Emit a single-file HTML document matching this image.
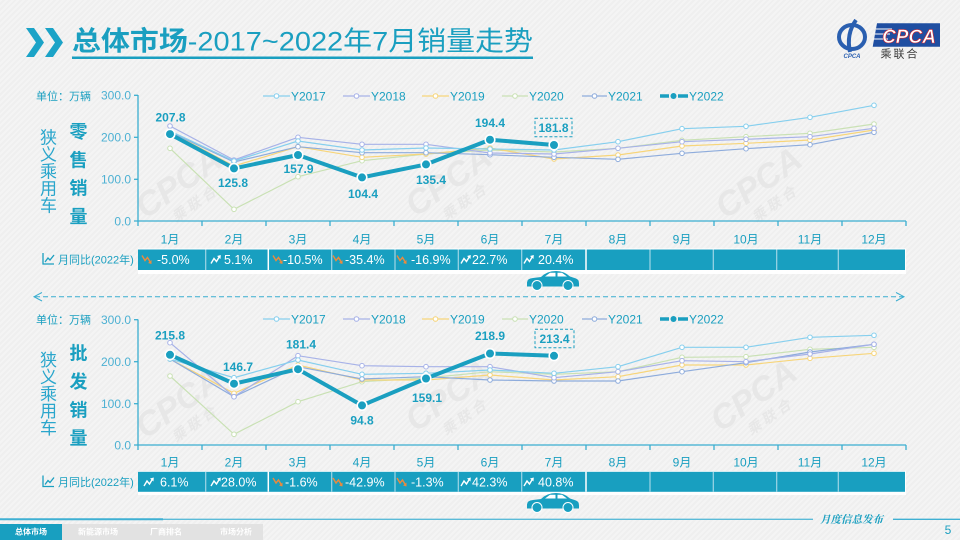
<!DOCTYPE html>
<html><head><meta charset="utf-8"><style>
html,body{margin:0;padding:0;width:960px;height:540px;overflow:hidden;}
body{background:#f2f2f2;background-image:repeating-linear-gradient(135deg,#f4f4f4 0px,#f4f4f4 2px,#efefef 2px,#efefef 4px);}
svg{display:block;font-family:"Liberation Sans","Noto Sans CJK SC",sans-serif;}
</style></head><body>
<svg width="960" height="540" viewBox="0 0 960 540" xmlns="http://www.w3.org/2000/svg">
<!-- watermarks -->
<g fill="#e6e6e6" font-weight="bold" font-style="italic" opacity="0.9">
<g transform="translate(185,192) rotate(-35)"><text x="0" y="0" font-size="34" text-anchor="middle">CPCA</text><text x="0" y="20" font-size="14" text-anchor="middle">乘 联 合</text></g>
<g transform="translate(455,190) rotate(-35)"><text x="0" y="0" font-size="34" text-anchor="middle">CPCA</text><text x="0" y="20" font-size="14" text-anchor="middle">乘 联 合</text></g>
<g transform="translate(765,192) rotate(-35)"><text x="0" y="0" font-size="34" text-anchor="middle">CPCA</text><text x="0" y="20" font-size="14" text-anchor="middle">乘 联 合</text></g>
<g transform="translate(185,412) rotate(-35)"><text x="0" y="0" font-size="34" text-anchor="middle">CPCA</text><text x="0" y="20" font-size="14" text-anchor="middle">乘 联 合</text></g>
<g transform="translate(455,405) rotate(-35)"><text x="0" y="0" font-size="34" text-anchor="middle">CPCA</text><text x="0" y="20" font-size="14" text-anchor="middle">乘 联 合</text></g>
<g transform="translate(760,405) rotate(-35)"><text x="0" y="0" font-size="34" text-anchor="middle">CPCA</text><text x="0" y="20" font-size="14" text-anchor="middle">乘 联 合</text></g>
</g>

<!-- header -->
<polygon points="26,28 34,28 44,42.5 34,57 26,57 36,42.5" fill="#1ba3c7"/>
<polygon points="45,28 53,28 63,42.5 53,57 45,57 55,42.5" fill="#1ba3c7"/>
<text x="72" y="50.5" font-size="27" fill="#1a9fc0" textLength="461" lengthAdjust="spacingAndGlyphs"><tspan font-weight="bold">总体市场</tspan>-2017~2022年7月销量走势</text>
<rect x="72" y="56.5" width="461" height="2.5" fill="#1a9fc0"/>

<!-- logo -->
<g>
<ellipse cx="852" cy="37" rx="13" ry="12" fill="none" stroke="#2a5fb0" stroke-width="4"/>
<path d="M856,20 Q846,34 850,52" stroke="#2a5fb0" stroke-width="4" fill="none"/>
<text x="852" y="58" font-size="6" font-style="italic" font-weight="bold" fill="#2a5fb0" text-anchor="middle">CPCA</text>
<polygon points="877,23.3 940,23.3 940,46.7 872.7,46.7" fill="#1f4ea1"/>
<line x1="876" y1="29" x2="892" y2="29" stroke="#fff" stroke-width="1"/>
<line x1="875" y1="34" x2="890" y2="34" stroke="#fff" stroke-width="1"/>
<line x1="874" y1="39" x2="888" y2="39" stroke="#fff" stroke-width="1"/>
<text x="909" y="43" font-size="19" font-weight="bold" font-style="italic" fill="#fff" stroke="#d6262d" stroke-width="0.6" text-anchor="middle">CPCA</text>
<text x="900" y="57.5" font-size="11" fill="#3a3a3a" text-anchor="middle" letter-spacing="2">乘联合</text>
</g>

<!-- ============ TOP CHART ============ -->
<text x="36" y="100" font-size="11" fill="#1a9fc0">单位：万辆</text>
<g font-size="17" fill="#2aa6cc" text-anchor="middle">
<text x="48.5" y="143.5">狭</text><text x="48.5" y="160.5">义</text><text x="48.5" y="177.5">乘</text><text x="48.5" y="194.5">用</text><text x="48.5" y="211.5">车</text>
</g>
<g font-size="18" font-weight="bold" fill="#1a9fc0" text-anchor="middle">
<text x="78.5" y="138">零</text><text x="78.5" y="166.5">售</text><text x="78.5" y="194.5">销</text><text x="78.5" y="223">量</text>
</g>
<g font-size="12" fill="#4db1d3" text-anchor="end">
<text x="131" y="99.5">300.0</text><text x="131" y="141.5">200.0</text><text x="131" y="183.5">100.0</text><text x="131" y="225.3">0.0</text>
</g>
<g stroke="#3aaed0" stroke-width="1.3">
<line x1="138" y1="95" x2="138" y2="221"/>
<line x1="134" y1="95.3" x2="138" y2="95.3"/><line x1="134" y1="137.3" x2="138" y2="137.3"/><line x1="134" y1="179.3" x2="138" y2="179.3"/>
<line x1="134" y1="221" x2="906" y2="221"/>
<path d="M138,221v5M202,221v5M266,221v5M330,221v5M394,221v5M458,221v5M522,221v5M586,221v5M650,221v5M714,221v5M778,221v5M842,221v5M906,221v5"/>
</g>
<g font-size="12" fill="#1a9fc0" text-anchor="middle">
<text x="170" y="243.5">1月</text><text x="234" y="243.5">2月</text><text x="298" y="243.5">3月</text><text x="362" y="243.5">4月</text><text x="426" y="243.5">5月</text><text x="490" y="243.5">6月</text><text x="554" y="243.5">7月</text><text x="618" y="243.5">8月</text><text x="682" y="243.5">9月</text><text x="746" y="243.5">10月</text><text x="810" y="243.5">11月</text><text x="874" y="243.5">12月</text>
</g>
<!-- legend top -->
<g font-size="12" fill="#1a9fc0">
<line x1="263" y1="96" x2="290" y2="96" stroke="#86cfee" stroke-width="1.2"/><circle cx="276.5" cy="96" r="2.3" fill="#fff" stroke="#86cfee"/><text x="291" y="100.3">Y2017</text>
<line x1="343" y1="96" x2="370" y2="96" stroke="#a7b2e8" stroke-width="1.2"/><circle cx="356.5" cy="96" r="2.3" fill="#fff" stroke="#a7b2e8"/><text x="371" y="100.3">Y2018</text>
<line x1="422" y1="96" x2="449" y2="96" stroke="#f7d57a" stroke-width="1.2"/><circle cx="435.5" cy="96" r="2.3" fill="#fff" stroke="#f7d57a"/><text x="450" y="100.3">Y2019</text>
<line x1="502" y1="96" x2="528" y2="96" stroke="#c9e1b4" stroke-width="1.2"/><circle cx="515" cy="96" r="2.3" fill="#fff" stroke="#c9e1b4"/><text x="529" y="100.3">Y2020</text>
<line x1="582" y1="96" x2="607" y2="96" stroke="#8eacdc" stroke-width="1.2"/><circle cx="594.5" cy="96" r="2.3" fill="#fff" stroke="#8eacdc"/><text x="608" y="100.3">Y2021</text>
<line x1="660" y1="96" x2="669" y2="96" stroke="#1a9fc0" stroke-width="3.5"/><line x1="678" y1="96" x2="688" y2="96" stroke="#1a9fc0" stroke-width="3.5"/><circle cx="673.5" cy="96" r="3" fill="#1a9fc0"/><text x="689" y="100.3">Y2022</text>
</g>
<!-- series top -->
<g fill="none" stroke-width="1.2">
<polyline stroke="#c9e1b4" points="170,148.3 234,209.3 298,176.7 362,160.7 426,154 490,150 554,152 618,148.3 682,140.3 746,136.7 810,133.3 874,124"/>
<polyline stroke="#f7d57a" points="170,132 234,166 298,146.7 362,157.3 426,154 490,148 554,159 618,155 682,146 746,143.3 810,140 874,130"/>
<polyline stroke="#8eacdc" points="170,132 234,162 298,146.7 362,152.7 426,152.7 490,154.7 554,157.3 618,159.3 682,153.3 746,148.7 810,144.7 874,132.3"/>
<polyline stroke="#a7b2e8" points="170,126 234,160 298,137.3 362,144.3 426,144.3 490,153 554,154 618,148.3 682,141.7 746,139.3 810,136.7 874,128.3"/>
<polyline stroke="#86cfee" points="170,131 234,161 298,141 362,150 426,148 490,149 554,150 618,141.7 682,128.7 746,126.3 810,117.3 874,105.3"/>
</g>
<g fill="#fff" stroke-width="1">
<g stroke="#c9e1b4"><circle cx="170" cy="148.3" r="2.3"/><circle cx="234" cy="209.3" r="2.3"/><circle cx="298" cy="176.7" r="2.3"/><circle cx="362" cy="160.7" r="2.3"/><circle cx="426" cy="154" r="2.3"/><circle cx="490" cy="150" r="2.3"/><circle cx="554" cy="152" r="2.3"/><circle cx="618" cy="148.3" r="2.3"/><circle cx="682" cy="140.3" r="2.3"/><circle cx="746" cy="136.7" r="2.3"/><circle cx="810" cy="133.3" r="2.3"/><circle cx="874" cy="124" r="2.3"/></g>
<g stroke="#f7d57a"><circle cx="170" cy="132" r="2.3"/><circle cx="234" cy="166" r="2.3"/><circle cx="298" cy="146.7" r="2.3"/><circle cx="362" cy="157.3" r="2.3"/><circle cx="426" cy="154" r="2.3"/><circle cx="490" cy="148" r="2.3"/><circle cx="554" cy="159" r="2.3"/><circle cx="618" cy="155" r="2.3"/><circle cx="682" cy="146" r="2.3"/><circle cx="746" cy="143.3" r="2.3"/><circle cx="810" cy="140" r="2.3"/><circle cx="874" cy="130" r="2.3"/></g>
<g stroke="#8eacdc"><circle cx="170" cy="132" r="2.3"/><circle cx="234" cy="162" r="2.3"/><circle cx="298" cy="146.7" r="2.3"/><circle cx="362" cy="152.7" r="2.3"/><circle cx="426" cy="152.7" r="2.3"/><circle cx="490" cy="154.7" r="2.3"/><circle cx="554" cy="157.3" r="2.3"/><circle cx="618" cy="159.3" r="2.3"/><circle cx="682" cy="153.3" r="2.3"/><circle cx="746" cy="148.7" r="2.3"/><circle cx="810" cy="144.7" r="2.3"/><circle cx="874" cy="132.3" r="2.3"/></g>
<g stroke="#a7b2e8"><circle cx="170" cy="126" r="2.3"/><circle cx="234" cy="160" r="2.3"/><circle cx="298" cy="137.3" r="2.3"/><circle cx="362" cy="144.3" r="2.3"/><circle cx="426" cy="144.3" r="2.3"/><circle cx="490" cy="153" r="2.3"/><circle cx="554" cy="154" r="2.3"/><circle cx="618" cy="148.3" r="2.3"/><circle cx="682" cy="141.7" r="2.3"/><circle cx="746" cy="139.3" r="2.3"/><circle cx="810" cy="136.7" r="2.3"/><circle cx="874" cy="128.3" r="2.3"/></g>
<g stroke="#86cfee"><circle cx="170" cy="131" r="2.3"/><circle cx="234" cy="161" r="2.3"/><circle cx="298" cy="141" r="2.3"/><circle cx="362" cy="150" r="2.3"/><circle cx="426" cy="148" r="2.3"/><circle cx="490" cy="149" r="2.3"/><circle cx="554" cy="150" r="2.3"/><circle cx="618" cy="141.7" r="2.3"/><circle cx="682" cy="128.7" r="2.3"/><circle cx="746" cy="126.3" r="2.3"/><circle cx="810" cy="117.3" r="2.3"/><circle cx="874" cy="105.3" r="2.3"/></g>
</g>
<polyline fill="none" stroke="#1a9fc0" stroke-width="4" stroke-linejoin="round" points="170,134.1 234,168.4 298,155 362,177.4 426,164.4 490,139.7 554,145"/>
<g fill="#1a9fc0" stroke="#fff" stroke-width="1.6">
<circle cx="170" cy="134.1" r="4.8"/><circle cx="234" cy="168.4" r="4.8"/><circle cx="298" cy="155" r="4.8"/><circle cx="362" cy="177.4" r="4.8"/><circle cx="426" cy="164.4" r="4.8"/><circle cx="490" cy="139.7" r="4.8"/><circle cx="554" cy="145" r="4.8"/>
</g>
<g font-size="12" font-weight="bold" fill="#1a9fc0" text-anchor="middle">
<text x="170.5" y="121.3">207.8</text><text x="233" y="186.8">125.8</text><text x="298.5" y="172.8">157.9</text><text x="363" y="197.8">104.4</text><text x="431" y="183.8">135.4</text><text x="490" y="127">194.4</text><text x="553.5" y="131.8">181.8</text>
</g>
<rect x="535" y="118.3" width="37" height="18.4" fill="none" stroke="#1a9fc0" stroke-width="1" stroke-dasharray="3,2"/>

<!-- table top -->
<rect x="138" y="248.5" width="768" height="25.5" fill="#ffffff"/>
<rect x="138" y="249.5" width="767" height="20.5" fill="#189fc0"/>
<g stroke="#9fd6e6" stroke-width="1.2">
<path d="M205.7,249.5v20.5M331.7,249.5v20.5M395,249.5v20.5M458.3,249.5v20.5M521.7,249.5v20.5M650,249.5v20.5M713.3,249.5v20.5M776.7,249.5v20.5M838.3,249.5v20.5"/>
</g>
<g stroke="#ffffff" stroke-width="1.5"><path d="M268.3,249.5v20.5M586,249.5v20.5"/></g>
<!-- label left -->
<g stroke="#1a9fc0" stroke-width="1.3" fill="none"><path d="M43,253v11h11"/><path d="M45,262l3,-4l2,2l4,-5"/></g>
<text x="58" y="263.5" font-size="11" fill="#1a9fc0">月同比(2022年)</text>
<defs>
<g id="dn"><path d="M0,1 L3,6 L5.5,3 L8.5,8" fill="none" stroke="#ec8a3c" stroke-width="1.4"/><path d="M6,8.5 L9.5,9.5 L9.5,5.5 Z" fill="#ec8a3c"/></g>
<g id="up"><path d="M0,9 L3,4 L5.5,7 L8.5,2" fill="none" stroke="#ffffff" stroke-width="1.4"/><path d="M6,1.5 L9.8,0.5 L9.5,4.5 Z" fill="#ffffff"/></g>
</defs>
<g font-size="12.5" fill="#ffffff">
<use href="#dn" x="142" y="254.5"/><text x="157" y="264">-5.0%</text>
<use href="#up" x="211" y="254.5"/><text x="224" y="264">5.1%</text>
<use href="#dn" x="273" y="254.5"/><text x="283" y="264">-10.5%</text>
<use href="#dn" x="333" y="254.5"/><text x="345" y="264">-35.4%</text>
<use href="#dn" x="397" y="254.5"/><text x="411" y="264">-16.9%</text>
<use href="#up" x="461" y="254.5"/><text x="472" y="264">22.7%</text>
<use href="#up" x="524" y="254.5"/><text x="538" y="264">20.4%</text>
</g>
<!-- car top -->
<g transform="translate(527,270.5)" fill="#189fc0">
<path d="M0,12 Q0,8 6,7.5 L14,6.5 Q20,0.5 29,0.5 Q37,0.5 43,6 L49,8 Q52,9 52,13 L52,16 L0,16 Z"/>
<polygon points="18,6 23,2.3 28.5,2.3 28.5,6" fill="#fff"/><polygon points="30.5,2.3 35,2.3 40,6 30.5,6" fill="#fff"/>
<circle cx="10" cy="15" r="5" stroke="#fff" stroke-width="1"/><circle cx="41" cy="15" r="5" stroke="#fff" stroke-width="1"/>
</g>

<!-- dashed arrow -->
<g stroke="#3aaed0" stroke-width="1" fill="none">
<line x1="35" y1="296.7" x2="903" y2="296.7" stroke-dasharray="5,3"/>
<path d="M42,292.5 L34,296.7 L42,301"/>
<path d="M896,292.5 L904,296.7 L896,301"/>
</g>

<!-- ============ BOTTOM CHART ============ -->
<text x="36" y="323.3" font-size="11" fill="#1a9fc0">单位：万辆</text>
<g font-size="17" fill="#2aa6cc" text-anchor="middle">
<text x="48.5" y="366">狭</text><text x="48.5" y="383">义</text><text x="48.5" y="400">乘</text><text x="48.5" y="417">用</text><text x="48.5" y="434">车</text>
</g>
<g font-size="18" font-weight="bold" fill="#1a9fc0" text-anchor="middle">
<text x="78.5" y="359.6">批</text><text x="78.5" y="388">发</text><text x="78.5" y="416.3">销</text><text x="78.5" y="444.6">量</text>
</g>
<g font-size="12" fill="#4db1d3" text-anchor="end">
<text x="131" y="323.9">300.0</text><text x="131" y="365.9">200.0</text><text x="131" y="407.9">100.0</text><text x="131" y="449.3">0.0</text>
</g>
<g stroke="#3aaed0" stroke-width="1.3">
<line x1="138" y1="319.5" x2="138" y2="445"/>
<line x1="134" y1="319.7" x2="138" y2="319.7"/><line x1="134" y1="361.7" x2="138" y2="361.7"/><line x1="134" y1="403.7" x2="138" y2="403.7"/>
<line x1="134" y1="445" x2="906" y2="445"/>
<path d="M138,445v5M202,445v5M266,445v5M330,445v5M394,445v5M458,445v5M522,445v5M586,445v5M650,445v5M714,445v5M778,445v5M842,445v5M906,445v5"/>
</g>
<g font-size="12" fill="#1a9fc0" text-anchor="middle">
<text x="170" y="466.5">1月</text><text x="234" y="466.5">2月</text><text x="298" y="466.5">3月</text><text x="362" y="466.5">4月</text><text x="426" y="466.5">5月</text><text x="490" y="466.5">6月</text><text x="554" y="466.5">7月</text><text x="618" y="466.5">8月</text><text x="682" y="466.5">9月</text><text x="746" y="466.5">10月</text><text x="810" y="466.5">11月</text><text x="874" y="466.5">12月</text>
</g>
<g font-size="12" fill="#1a9fc0">
<line x1="263" y1="319" x2="290" y2="319" stroke="#86cfee" stroke-width="1.2"/><circle cx="276.5" cy="319" r="2.3" fill="#fff" stroke="#86cfee"/><text x="291" y="323.3">Y2017</text>
<line x1="343" y1="319" x2="370" y2="319" stroke="#a7b2e8" stroke-width="1.2"/><circle cx="356.5" cy="319" r="2.3" fill="#fff" stroke="#a7b2e8"/><text x="371" y="323.3">Y2018</text>
<line x1="422" y1="319" x2="449" y2="319" stroke="#f7d57a" stroke-width="1.2"/><circle cx="435.5" cy="319" r="2.3" fill="#fff" stroke="#f7d57a"/><text x="450" y="323.3">Y2019</text>
<line x1="502" y1="319" x2="528" y2="319" stroke="#c9e1b4" stroke-width="1.2"/><circle cx="515" cy="319" r="2.3" fill="#fff" stroke="#c9e1b4"/><text x="529" y="323.3">Y2020</text>
<line x1="582" y1="319" x2="607" y2="319" stroke="#8eacdc" stroke-width="1.2"/><circle cx="594.5" cy="319" r="2.3" fill="#fff" stroke="#8eacdc"/><text x="608" y="323.3">Y2021</text>
<line x1="660" y1="319" x2="669" y2="319" stroke="#1a9fc0" stroke-width="3.5"/><line x1="678" y1="319" x2="688" y2="319" stroke="#1a9fc0" stroke-width="3.5"/><circle cx="673.5" cy="319" r="3" fill="#1a9fc0"/><text x="689" y="323.3">Y2022</text>
</g>
<g fill="none" stroke-width="1.2">
<polyline stroke="#c9e1b4" points="170,376 234,434.3 298,401.7 362,381.7 426,378 490,371.7 554,374.3 618,371.7 682,357.3 746,356.7 810,349.3 874,347.3"/>
<polyline stroke="#f7d57a" points="170,359 234,393.3 298,365 362,380 426,380 490,375 554,380 618,376.7 682,365 746,365 810,358.3 874,353.3"/>
<polyline stroke="#8eacdc" points="170,359 234,396.7 298,366.7 362,379 426,376.7 490,380 554,381 618,381 682,371.7 746,362.7 810,352 874,344.3"/>
<polyline stroke="#a7b2e8" points="170,342.7 234,396.7 298,355.7 362,365.7 426,366.7 490,366.7 554,377.7 618,371.7 682,360.7 746,361.7 810,354 874,344.3"/>
<polyline stroke="#86cfee" points="170,359 234,377.7 298,360 362,374.3 426,373.3 490,370 554,373.3 618,366.7 682,347.3 746,347.3 810,337.3 874,335.3"/>
</g>
<g fill="#fff" stroke-width="1">
<g stroke="#c9e1b4"><circle cx="170" cy="376" r="2.3"/><circle cx="234" cy="434.3" r="2.3"/><circle cx="298" cy="401.7" r="2.3"/><circle cx="362" cy="381.7" r="2.3"/><circle cx="426" cy="378" r="2.3"/><circle cx="490" cy="371.7" r="2.3"/><circle cx="554" cy="374.3" r="2.3"/><circle cx="618" cy="371.7" r="2.3"/><circle cx="682" cy="357.3" r="2.3"/><circle cx="746" cy="356.7" r="2.3"/><circle cx="810" cy="349.3" r="2.3"/><circle cx="874" cy="347.3" r="2.3"/></g>
<g stroke="#f7d57a"><circle cx="170" cy="359" r="2.3"/><circle cx="234" cy="393.3" r="2.3"/><circle cx="298" cy="365" r="2.3"/><circle cx="362" cy="380" r="2.3"/><circle cx="426" cy="380" r="2.3"/><circle cx="490" cy="375" r="2.3"/><circle cx="554" cy="380" r="2.3"/><circle cx="618" cy="376.7" r="2.3"/><circle cx="682" cy="365" r="2.3"/><circle cx="746" cy="365" r="2.3"/><circle cx="810" cy="358.3" r="2.3"/><circle cx="874" cy="353.3" r="2.3"/></g>
<g stroke="#8eacdc"><circle cx="170" cy="359" r="2.3"/><circle cx="234" cy="396.7" r="2.3"/><circle cx="298" cy="366.7" r="2.3"/><circle cx="362" cy="379" r="2.3"/><circle cx="426" cy="376.7" r="2.3"/><circle cx="490" cy="380" r="2.3"/><circle cx="554" cy="381" r="2.3"/><circle cx="618" cy="381" r="2.3"/><circle cx="682" cy="371.7" r="2.3"/><circle cx="746" cy="362.7" r="2.3"/><circle cx="810" cy="352" r="2.3"/><circle cx="874" cy="344.3" r="2.3"/></g>
<g stroke="#a7b2e8"><circle cx="170" cy="342.7" r="2.3"/><circle cx="234" cy="396.7" r="2.3"/><circle cx="298" cy="355.7" r="2.3"/><circle cx="362" cy="365.7" r="2.3"/><circle cx="426" cy="366.7" r="2.3"/><circle cx="490" cy="366.7" r="2.3"/><circle cx="554" cy="377.7" r="2.3"/><circle cx="618" cy="371.7" r="2.3"/><circle cx="682" cy="360.7" r="2.3"/><circle cx="746" cy="361.7" r="2.3"/><circle cx="810" cy="354" r="2.3"/><circle cx="874" cy="344.3" r="2.3"/></g>
<g stroke="#86cfee"><circle cx="170" cy="359" r="2.3"/><circle cx="234" cy="377.7" r="2.3"/><circle cx="298" cy="360" r="2.3"/><circle cx="362" cy="374.3" r="2.3"/><circle cx="426" cy="373.3" r="2.3"/><circle cx="490" cy="370" r="2.3"/><circle cx="554" cy="373.3" r="2.3"/><circle cx="618" cy="366.7" r="2.3"/><circle cx="682" cy="347.3" r="2.3"/><circle cx="746" cy="347.3" r="2.3"/><circle cx="810" cy="337.3" r="2.3"/><circle cx="874" cy="335.3" r="2.3"/></g>
</g>
<polyline fill="none" stroke="#1a9fc0" stroke-width="4" stroke-linejoin="round" points="170,354.8 234,383.7 298,369.2 362,405.4 426,378.5 490,353.5 554,355.8"/>
<g fill="#1a9fc0" stroke="#fff" stroke-width="1.6">
<circle cx="170" cy="354.8" r="4.8"/><circle cx="234" cy="383.7" r="4.8"/><circle cx="298" cy="369.2" r="4.8"/><circle cx="362" cy="405.4" r="4.8"/><circle cx="426" cy="378.5" r="4.8"/><circle cx="490" cy="353.5" r="4.8"/><circle cx="554" cy="355.8" r="4.8"/>
</g>
<g font-size="12" font-weight="bold" fill="#1a9fc0" text-anchor="middle">
<text x="170" y="339.3">215.8</text><text x="238" y="371">146.7</text><text x="301" y="348.6">181.4</text><text x="362" y="424.3">94.8</text><text x="427" y="402">159.1</text><text x="490" y="340">218.9</text><text x="554.5" y="342.8">213.4</text>
</g>
<rect x="535" y="329.3" width="39" height="18.4" fill="none" stroke="#1a9fc0" stroke-width="1" stroke-dasharray="3,2"/>

<!-- table bottom -->
<rect x="138" y="471" width="768" height="24" fill="#ffffff"/>
<rect x="138" y="471.8" width="767" height="20" fill="#189fc0"/>
<g stroke="#9fd6e6" stroke-width="1.2">
<path d="M205.7,471.8v20M331.7,471.8v20M395,471.8v20M458.3,471.8v20M521.7,471.8v20M650,471.8v20M713.3,471.8v20M776.7,471.8v20M838.3,471.8v20"/>
</g>
<g stroke="#ffffff" stroke-width="1.5"><path d="M268.3,471.8v20M586,471.8v20"/></g>
<g stroke="#1a9fc0" stroke-width="1.3" fill="none"><path d="M43,475.5v11h11"/><path d="M45,484.5l3,-4l2,2l4,-5"/></g>
<text x="58" y="486" font-size="11" fill="#1a9fc0">月同比(2022年)</text>
<g font-size="12.5" fill="#ffffff">
<use href="#up" x="144" y="477"/><text x="160" y="486.3">6.1%</text>
<use href="#up" x="211" y="477"/><text x="221" y="486.3">28.0%</text>
<use href="#dn" x="273" y="477"/><text x="285" y="486.3">-1.6%</text>
<use href="#dn" x="333" y="477"/><text x="345" y="486.3">-42.9%</text>
<use href="#dn" x="397" y="477"/><text x="411" y="486.3">-1.3%</text>
<use href="#up" x="461" y="477"/><text x="472" y="486.3">42.3%</text>
<use href="#up" x="524" y="477"/><text x="538" y="486.3">40.8%</text>
</g>
<g transform="translate(527,492.5)" fill="#189fc0">
<path d="M0,12 Q0,8 6,7.5 L14,6.5 Q20,0.5 29,0.5 Q37,0.5 43,6 L49,8 Q52,9 52,13 L52,16 L0,16 Z"/>
<polygon points="18,6 23,2.3 28.5,2.3 28.5,6" fill="#fff"/><polygon points="30.5,2.3 35,2.3 40,6 30.5,6" fill="#fff"/>
<circle cx="10" cy="15" r="5" stroke="#fff" stroke-width="1"/><circle cx="41" cy="15" r="5" stroke="#fff" stroke-width="1"/>
</g>

<!-- footer -->
<line x1="0" y1="519.3" x2="163" y2="519.3" stroke="#3fb0d3" stroke-width="2"/>
<line x1="163" y1="519.3" x2="813" y2="519.3" stroke="#5bbbd8" stroke-width="1.3"/>
<line x1="893" y1="519.3" x2="960" y2="519.3" stroke="#3fb0d3" stroke-width="1.3"/>
<text x="851.5" y="523" font-size="10.5" font-style="italic" font-weight="bold" fill="#1a9fc0" text-anchor="middle" font-family="'Noto Serif CJK SC','Liberation Serif',serif">月度信息发布</text>
<text x="948" y="534" font-size="12" fill="#1a9fc0" text-anchor="middle">5</text>
<rect x="0" y="524" width="62" height="16" fill="#189fc0"/>
<rect x="62" y="524" width="201" height="16" fill="#e2e2e2"/>
<g font-size="8" font-weight="bold" fill="#ffffff" text-anchor="middle">
<text x="31" y="534.5">总体市场</text><text x="98" y="534.5">新能源市场</text><text x="166" y="534.5">厂商排名</text><text x="236" y="534.5">市场分析</text>
</g>
</svg>
</body></html>
